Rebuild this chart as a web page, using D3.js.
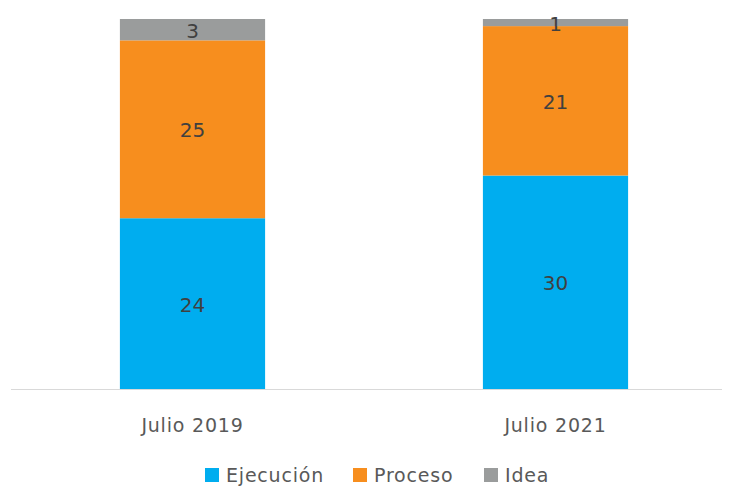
<!DOCTYPE html>
<html>
<head>
<meta charset="utf-8">
<script src="https://cdn.jsdelivr.net/npm/d3@7"></script>
<style>
  body { margin: 0; background: #fff; }
  svg { display: block; font-family: "DejaVu Sans", "Noto Sans", sans-serif; }
</style>
</head>
<body>
<svg id="chart" width="732" height="486"></svg>
<script>
// Data
const categories = ["Julio 2019", "Julio 2021"];
const seriesNames = ["Ejecución", "Proceso", "Idea"];
const ejecucion = [24, 30];
const proceso = [25, 21];
const idea = [3, 1];
const colors = ["#00ADEF", "#F78E1E", "#9A9C9C"];

const rows = categories.map((c, i) => ({
    cat: c,
    "Ejecución": ejecucion[i],
    "Proceso": proceso[i],
    "Idea": idea[i]
}));

const svg = d3.select("#chart");

// Scales
const x = d3.scaleBand().domain(categories).range([11, 737]).paddingInner(0.6).paddingOuter(0.3);
const y = d3.scaleLinear().domain([0, 52]).range([389, 19]);
const color = d3.scaleOrdinal().domain(seriesNames).range(colors);

const stacked = d3.stack().keys(seriesNames)(rows);

// Bars
const layer = svg.append("g")
    .selectAll("g")
    .data(stacked)
    .join("g")
    .attr("fill", d => color(d.key));

layer.selectAll("rect")
    .data(d => d)
    .join("rect")
    .attr("x", d => x(d.data.cat))
    .attr("width", x.bandwidth())
    .attr("y", d => y(d[1]))
    .attr("height", d => y(d[0]) - y(d[1]));

// Data labels
layer.selectAll("text")
    .data(d => d)
    .join("text")
    .attr("x", d => x(d.data.cat) + x.bandwidth() / 2)
    .attr("y", d => (y(d[0]) + y(d[1])) / 2 + 1)
    .attr("dy", "0.36em")
    .attr("text-anchor", "middle")
    .attr("font-size", 20)
    .attr("fill", "#404040")
    .text(d => d[1] - d[0]);

// Axis line
svg.append("line")
    .attr("x1", 11).attr("x2", 722)
    .attr("y1", y(0) + 0.5).attr("y2", y(0) + 0.5)
    .attr("stroke", "#D9D9D9")
    .attr("stroke-width", 1);

// Category labels
svg.append("g")
    .selectAll("text")
    .data(categories)
    .join("text")
    .attr("x", d => x(d) + x.bandwidth() / 2)
    .attr("y", 425)
    .attr("dy", "0.36em")
    .attr("text-anchor", "middle")
    .attr("font-size", 19)
    .attr("letter-spacing", 0.8)
    .attr("fill", "#595959")
    .text(d => d);

// Legend
const legendX = [205, 353, 484];
const legend = svg.append("g")
    .selectAll("g")
    .data(seriesNames)
    .join("g")
    .attr("transform", (d, i) => `translate(${legendX[i]},475)`);

legend.append("rect")
    .attr("x", 0).attr("y", -7)
    .attr("width", 14).attr("height", 14)
    .attr("fill", d => color(d));

legend.append("text")
    .attr("x", 21)
    .attr("dy", "0.36em")
    .attr("font-size", 19)
    .attr("letter-spacing", 0.8)
    .attr("fill", "#595959")
    .text(d => d);
</script>
</body>
</html>
